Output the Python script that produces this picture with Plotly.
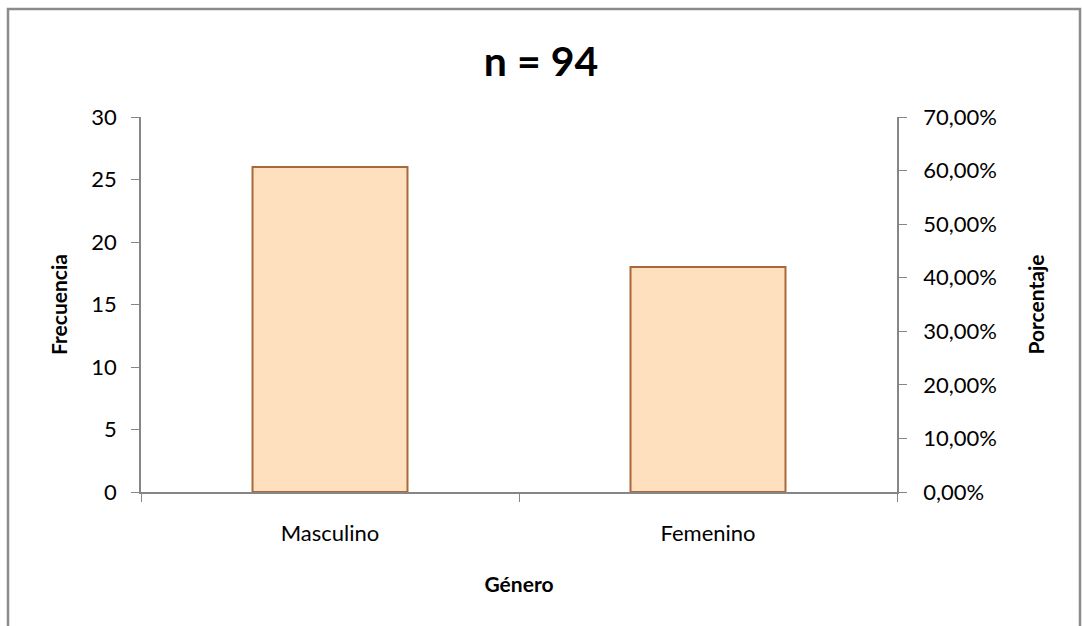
import plotly.graph_objects as go

categories = ["Masculino", "Femenino"]
frecuencia = [26, 18]
title_text = "n = 94"
y_ticks = [0, 5, 10, 15, 20, 25, 30]
pct_ticks = [0, 0.1, 0.2, 0.3, 0.4, 0.5, 0.6, 0.7]

FONT = "Lato, 'Open Sans', sans-serif"
AXIS_COLOR = "#868686"
TICK_SIZE = 22
TITLE_SIZE = 21

L, R, T, B = 141, 185, 117, 134
PW, PH = 1082 - L - R, 626 - T - B

fig = go.Figure()
fig.add_trace(go.Bar(
    x=categories, y=frecuencia, width=0.41,
    marker=dict(color="#FEE0BE", line=dict(color="#A8683A", width=2)),
    showlegend=False, hoverinfo="x+y",
))
# invisible trace to activate the secondary axis
fig.add_trace(go.Scatter(x=categories, y=[None, None], yaxis="y2",
                         showlegend=False, hoverinfo="skip"))

fig.update_layout(
    width=1082, height=626,
    margin=dict(l=L, r=R, t=T, b=B),
    paper_bgcolor="white", plot_bgcolor="white",
    separators=",.",
    font=dict(family=FONT, size=TICK_SIZE, color="#000000"),
    title=dict(text="<b>" + title_text + "</b>", x=0.5, xanchor="center",
               y=1 - 62 / 626, yanchor="middle",
               font=dict(size=41, family=FONT, color="#000000")),
    xaxis=dict(
        showline=True, linecolor=AXIS_COLOR, linewidth=1.5,
        ticks="outside", tickson="boundaries", ticklen=8, tickcolor=AXIS_COLOR,
        ticklabelstandoff=21, showgrid=False,
        tickfont=dict(size=TICK_SIZE),
        title=dict(text="<b>Género</b>", font=dict(size=TITLE_SIZE, family=FONT), standoff=32),
    ),
    yaxis=dict(
        range=[0, 30], tickvals=y_ticks, showline=True, linecolor=AXIS_COLOR,
        linewidth=1.5, ticks="outside", ticklen=8, tickcolor=AXIS_COLOR,
        ticklabelstandoff=10, showgrid=False, zeroline=False,
        tickfont=dict(size=TICK_SIZE),
        title=dict(text="<b>Frecuencia</b>", font=dict(size=TITLE_SIZE, family=FONT), standoff=18),
    ),
    yaxis2=dict(
        range=[0, 0.7], tickvals=pct_ticks, tickformat=".2%", overlaying="y", side="right",
        showline=True, linecolor=AXIS_COLOR, linewidth=1.5, ticks="outside", ticklen=8,
        tickcolor=AXIS_COLOR, ticklabelstandoff=12, showgrid=False, zeroline=False,
        tickfont=dict(size=TICK_SIZE),
        title=dict(text="<b>Porcentaje</b>", font=dict(size=TITLE_SIZE, family=FONT), standoff=33),
    ),
    shapes=[dict(type="rect", xref="paper", yref="paper",
                 x0=(8 - L) / PW, x1=(1080 - L) / PW,
                 y0=(626 - B - 640) / PH, y1=(626 - B - 9) / PH,
                 line=dict(color="#8C8C8C", width=2.5), fillcolor="rgba(0,0,0,0)",
                 layer="below")],
)

fig.write_html("out.html", config={"displayModeBar": False},
               post_script="document.body.style.margin='0';")
